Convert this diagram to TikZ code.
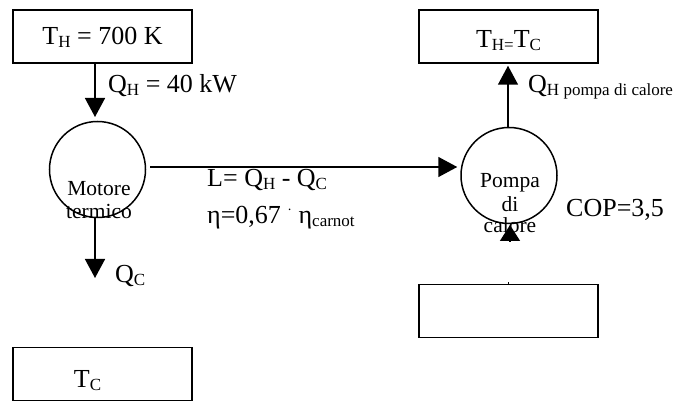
\documentclass[tikz,border=0pt]{standalone}
\usepackage{fontspec}
\setmainfont{Liberation Serif}
\usetikzlibrary{arrows.meta}
\newcommand\sbs[1]{\raisebox{-3pt}{\fontsize{17}{17}\selectfont #1}}
\begin{document}
\begin{tikzpicture}[x=1pt,y=-1pt,
  every node/.style={font=\fontsize{26}{28}\selectfont},
  box/.style={draw, line width=1.5pt, minimum width=179pt, minimum height=53pt, inner sep=0pt, text depth=0pt},
  disc/.style={draw, circle, line width=1.5pt, minimum size=96pt, inner sep=0pt},
  lbl/.style={inner sep=0pt, anchor=base west},
  small/.style={inner sep=0pt, anchor=base, font=\fontsize{21.5}{23}\selectfont},
  arr/.style={line width=1.5pt, -{Triangle[length=19pt,width=20pt]}}]
\useasboundingbox (0,0) rectangle (675,403);
% boxes
\node[box, text height=17pt] (th) at (102.5,36.5) {T\sbs{H} = 700 K};
\node[box, text height=23pt] (th2) at (508.5,36.5) {T\sbs{H=}T\sbs{C}};
\node[box, text height=28pt] (tc) at (102.5,374) {T\sbs{C}\kern30pt};
\node[box] (b2) at (508.5,311) {};
% circles
\node[disc] (m1) at (97.5,169.5) {};
\node[disc] (m2) at (509,175.5) {};
\node[small] (m1a) at (99,196) {Motore};
\node[small] (m1b) at (99,219) {termico};
\node[small] (m2a) at (510,188) {Pompa};
\node[small] (m2b) at (510,212) {di};
\node[small] (m2c) at (510,233) {calore};
% coordinates
\coordinate (hl) at (0,167);
\coordinate (qcend) at (95,278);
\coordinate (cbase) at (510,241);
\coordinate (ctip) at (510,225);
% connectors
\draw[arr, shorten >=5pt] (th.south -| 95,0) -- (95,122);
\draw[arr] (m1.south -| qcend) -- (qcend);
\draw[arr] ([xshift=4pt]m1.east |- hl) -- ([xshift=-3pt]m2.west |- hl);
\draw[arr, shorten >=2pt] (m2.north -| 508,0) -- (th2.south -| 508,0);
\draw[line width=1.5pt, -{Triangle[length=16pt,width=20pt]}] (cbase) -- (ctip);
\draw[line width=0.6pt] (b2.north) -- ++(0,-2);
% labels
\node[lbl] (lqh) at (108,93) {Q\sbs{H} = 40 kW};
\node[lbl] (lqhp) at (528,93) {Q\sbs{H pompa di calore}};
\node[lbl] (lqc) at (115,283) {Q\sbs{C}};
\node[lbl] (ll) at (207,187) {L= Q\sbs{H} - Q\sbs{C}};
\node[lbl] (leta) at (207,224) {η=0,67 \raisebox{9pt}{\fontsize{14}{14}\selectfont ·} η\sbs{carnot}};
\node[lbl] (lcop) at (566,217) {COP=3,5};
\end{tikzpicture}
\end{document}
